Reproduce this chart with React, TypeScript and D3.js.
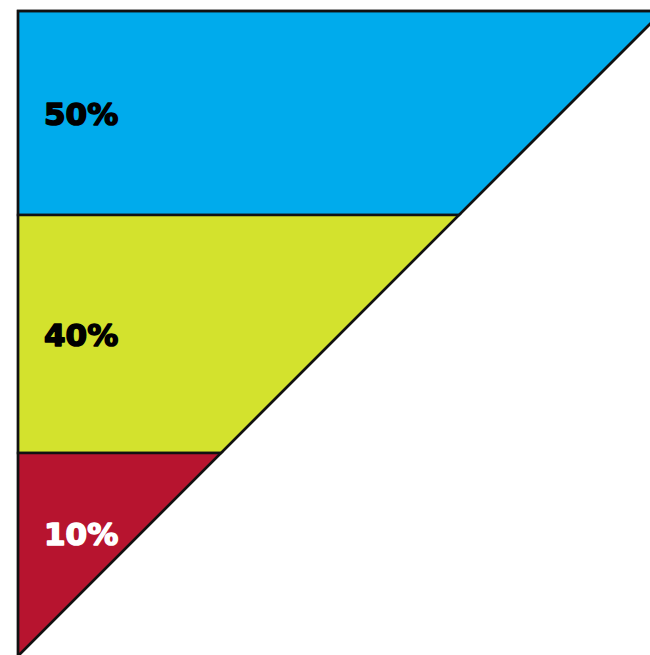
import React, { useEffect, useRef } from "react";
import * as d3 from "d3";

// Data
const labels = ["50%", "40%", "10%"];
const values = [50, 40, 10];
// relative band heights (top to bottom)
const bandHeights = [204, 238, 203];
const fills = ["#00abec", "#d3e22d", "#b7142f"];
const textColors = ["#000000", "#000000", "#ffffff"];

const W = 650;
const H = 655;

export default function App() {
  const ref = useRef<SVGSVGElement | null>(null);

  useEffect(() => {
    const svg = d3.select(ref.current);
    svg.selectAll("*").remove();

    const left = 18;
    const top = 11;
    const bottom = 656;
    const triH = bottom - top;
    const triW = triH; // 45 degree hypotenuse

    const total = d3.sum(bandHeights);
    const cum = [0, ...d3.cumsum(bandHeights)];
    const y = d3.scaleLinear().domain([0, total]).range([top, bottom]);
    // x-position of hypotenuse at a given y
    const xEdge = d3.scaleLinear().domain([top, bottom]).range([left + triW, left]);

    const g = svg.append("g");

    values.forEach((v, i) => {
      const y0 = y(cum[i]);
      const y1 = y(cum[i + 1]);
      const pts: [number, number][] = [
        [left, y0],
        [xEdge(y0), y0],
        [xEdge(y1), y1],
        [left, y1],
      ];
      g.append("path")
        .attr("d", d3.line()(pts) + "Z")
        .attr("fill", fills[i])
        .attr("stroke", "#111")
        .attr("stroke-width", 2.4)
        .attr("stroke-linejoin", "miter");
    });

    // outline
    g.append("path")
      .attr(
        "d",
        d3.line()([
          [left, top],
          [left + triW, top],
          [left, bottom],
        ]) + "Z"
      )
      .attr("fill", "none")
      .attr("stroke", "#111")
      .attr("stroke-width", 2.4);

    const fontSize = 31;
    const capH = fontSize * 0.73;
    values.forEach((v, i) => {
      const y0 = y(cum[i]);
      const y1 = y(cum[i + 1]);
      let base = (y0 + y1) / 2 + capH / 2;
      const t = g
        .append("text")
        .attr("x", 44)
        .attr("font-family", "'DejaVu Sans', sans-serif")
        .attr("font-weight", 700)
        .attr("font-size", fontSize)
        .attr("fill", textColors[i])
        .attr("stroke", textColors[i])
        .attr("stroke-width", 1.6)
        .attr("stroke-linejoin", "round")
        .text(labels[i]);
      const w = (t.node() as SVGTextElement).getComputedTextLength();
      const maxBase = xEdge.invert(44 + w + 12);
      base = Math.min(base, maxBase);
      t.attr("y", base + 1);
    });
  }, []);

  return (
    <svg
      ref={ref}
      width={W}
      height={H}
      style={{ position: "absolute", left: 0, top: 0, background: "#fff" }}
    />
  );
}
